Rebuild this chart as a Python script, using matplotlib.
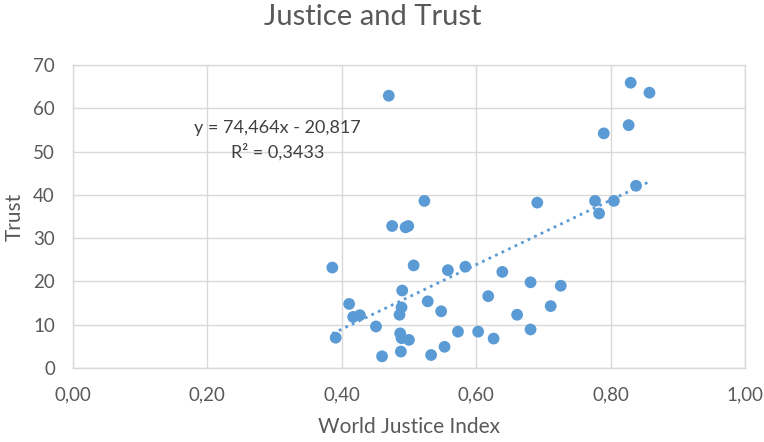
import numpy as np
import matplotlib
matplotlib.use("Agg")
import matplotlib.pyplot as plt

# values
justice_index = [
    0.386, 0.391, 0.411, 0.417, 0.427, 0.451, 0.460, 0.470, 0.475, 0.486,
    0.487, 0.489, 0.488, 0.489, 0.490, 0.495, 0.499, 0.500, 0.507, 0.523,
    0.528, 0.533, 0.548, 0.553, 0.558, 0.573, 0.584, 0.603, 0.618, 0.626,
    0.639, 0.661, 0.681, 0.681, 0.691, 0.711, 0.726, 0.777, 0.783, 0.790,
    0.805, 0.827, 0.830, 0.838, 0.858,
]
trust = [
    23.2, 7.0, 14.8, 11.8, 12.2, 9.6, 2.7, 62.9, 32.8, 12.3,
    8.0, 6.9, 3.8, 14.0, 17.9, 32.5, 32.8, 6.5, 23.7, 38.6,
    15.4, 3.0, 13.1, 4.9, 22.6, 8.4, 23.4, 8.4, 16.6, 6.8,
    22.2, 12.3, 19.8, 8.9, 38.2, 14.3, 19.0, 38.6, 35.7, 54.2,
    38.6, 56.1, 65.9, 42.1, 63.6,
]

# trendline as printed on the chart
slope = 74.464
intercept = -20.817
r_squared = "0,3433"

x_ticks = [0.0, 0.2, 0.4, 0.6, 0.8, 1.0]
x_tick_labels = ["0,00", "0,20", "0,40", "0,60", "0,80", "1,00"]
y_ticks = [0, 10, 20, 30, 40, 50, 60, 70]

blue = "#5b9bd5"
grey_text = "#595959"
grid_grey = "#d9d9d9"

plt.rcParams["font.family"] = ["Lato", "DejaVu Sans"]

fig = plt.figure(figsize=(7.64, 4.42), dpi=100)
ax = fig.add_axes([0.0955, 0.1674, 0.8795, 0.6856])

ax.scatter(justice_index, trust, s=72, color=blue, edgecolors="none", zorder=3)

xs = np.array([min(justice_index), max(justice_index)])
ax.plot(xs, slope * xs + intercept, linestyle=(0, (1, 1.6)), color=blue,
        linewidth=2, zorder=2)

# equation label, same spot as in the chart
ax.text(0.304, 55.4, "y = 74,464x - 20,817", ha="center", va="center",
        fontsize=13, color="#404040")
ax.text(0.304, 49.9, f"R² = {r_squared}", ha="center", va="center",
        fontsize=13, color="#404040")

ax.set_xlim(0, 1)
ax.set_ylim(0, 70)
ax.set_xticks(x_ticks)
ax.set_xticklabels(x_tick_labels)
ax.set_yticks(y_ticks)
ax.grid(True, color=grid_grey, linewidth=1)
ax.set_axisbelow(True)
ax.tick_params(length=0, labelsize=13.5, colors=grey_text, pad=13)
for sp in ax.spines.values():
    sp.set_color(grid_grey)
    sp.set_linewidth(1)

ax.set_xlabel("World Justice Index", fontsize=15, color=grey_text, labelpad=10)
ax.set_ylabel("Trust", fontsize=15, color=grey_text, labelpad=6)
fig.suptitle("Justice and Trust", x=0.488, y=0.99, va="top", fontsize=21,
             color=grey_text)

fig.savefig("out.png", dpi=100)
